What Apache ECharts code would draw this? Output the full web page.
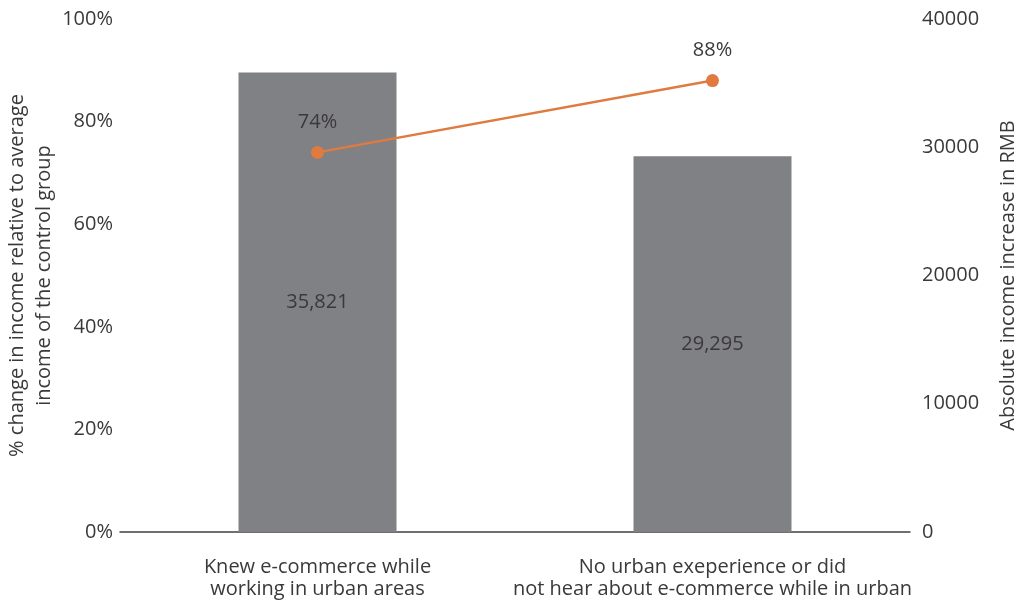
<!DOCTYPE html>
<html>
<head>
<meta charset="utf-8">
<script src="https://cdn.jsdelivr.net/npm/echarts@6/dist/echarts.min.js"></script>
<style>
  html, body { margin: 0; padding: 0; background: #fff; }
  #main { width: 1017px; height: 603px; }
</style>
</head>
<body>
<div id="main"></div>
<script>
// data
var categories = ['Knew e-commerce while\nworking in urban areas', 'No urban exeperience or did\nnot hear about e-commerce while in urban'];
var absIncrease = [35821, 29295];   // bars, right axis (RMB)
var pctChange = [74, 88];           // line, left axis (%)
var leftTicks = [0, 20, 40, 60, 80, 100];
var rightTicks = [0, 10000, 20000, 30000, 40000];

var textColor = '#3b3838';
var font = 'Open Sans';

var myChart = echarts.init(document.getElementById('main'));

var option = {
  animation: false,
  textStyle: { fontFamily: font },
  grid: { left: 120, right: 107, top: 19, bottom: 71, containLabel: false, outerBoundsMode: 'none' },
  xAxis: {
    type: 'category',
    data: categories,
    axisLine: { lineStyle: { color: '#404040', width: 1.5 } },
    axisTick: { show: false },
    axisLabel: { color: textColor, fontSize: 20, lineHeight: 22, margin: 24, interval: 0, fontFamily: font }
  },
  yAxis: [{
    type: 'value',
    min: leftTicks[0],
    max: leftTicks[leftTicks.length - 1],
    interval: leftTicks[1] - leftTicks[0],
    name: '% change in income relative to average\nincome of the control group',
    nameLocation: 'middle',
    nameGap: 62,
    nameMoveOverlap: false,
    nameTextStyle: { color: textColor, fontSize: 20, lineHeight: 27, fontFamily: font },
    axisLine: { show: false },
    axisTick: { show: false },
    splitLine: { show: false },
    axisLabel: { color: textColor, fontSize: 20, margin: 7, formatter: '{value}%', fontFamily: font }
  }, {
    type: 'value',
    min: rightTicks[0],
    max: rightTicks[rightTicks.length - 1],
    interval: rightTicks[1] - rightTicks[0],
    name: 'Absolute income increase in RMB',
    nameLocation: 'middle',
    nameGap: 88,
    nameTextStyle: { color: textColor, fontSize: 20, fontFamily: font },
    axisLine: { show: false },
    axisTick: { show: false },
    splitLine: { show: false },
    axisLabel: { color: textColor, fontSize: 20, margin: 12, fontFamily: font, formatter: function (v) { return String(v); } }
  }],
  series: [{
    type: 'bar',
    yAxisIndex: 1,
    data: absIncrease,
    barWidth: '40%',
    itemStyle: { color: '#808184' },
    label: {
      show: true,
      position: 'inside',
      color: textColor,
      fontSize: 20,
      fontFamily: font,
      formatter: function (p) { return p.value.toLocaleString('en-US'); }
    },
    z: 1
  }, {
    type: 'line',
    yAxisIndex: 0,
    data: pctChange,
    lineStyle: { color: '#e07a3f', width: 2.5 },
    itemStyle: { color: '#e07a3f' },
    symbol: 'circle',
    symbolSize: 13,
    label: {
      show: true,
      position: 'top',
      distance: 14,
      color: textColor,
      fontSize: 20,
      fontFamily: font,
      formatter: '{c}%'
    },
    z: 3
  }]
};

myChart.setOption(option);
</script>
</body>
</html>
